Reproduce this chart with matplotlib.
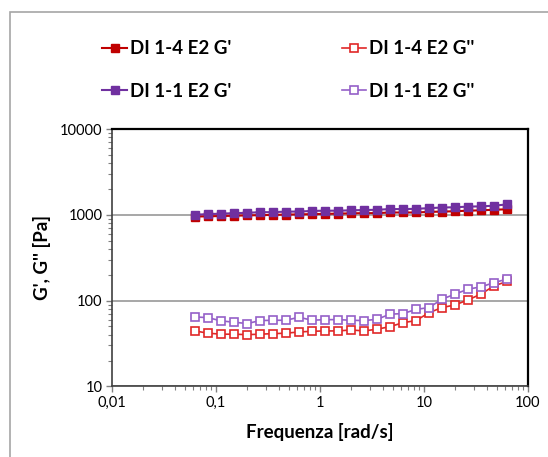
import numpy as np
import matplotlib
matplotlib.use("Agg")
import matplotlib.pyplot as plt
from matplotlib.patches import Rectangle
from matplotlib.ticker import LogLocator, NullFormatter

plt.rcParams['font.family'] = ['Lato', 'DejaVu Sans']

# frequency [rad/s], 8 points per decade from 0.0628
freq = [0.0628, 0.0838, 0.112, 0.149, 0.199, 0.265, 0.353, 0.471, 0.628,
        0.838, 1.12, 1.49, 1.99, 2.65, 3.53, 4.71, 6.28, 8.38, 11.2, 14.9,
        19.9, 26.5, 35.3, 47.1, 62.8]

g1_14 = [955, 960, 968, 975, 985, 990, 998, 1005, 1012, 1018, 1025, 1032,
         1040, 1046, 1046, 1064, 1064, 1064, 1082, 1090, 1101, 1117, 1128,
         1145, 1160]
g2_14 = [44.3, 41.7, 40.6, 40.6, 40.1, 40.6, 41.2, 41.7, 43.1, 43.9, 44.3,
         44.3, 45.5, 44.3, 46.4, 49.7, 55.3, 58.5, 72.4, 83, 89, 102, 119,
         148.5, 167]
g1_11 = [1000, 1020, 1030, 1046, 1054, 1073, 1073, 1090, 1090, 1110, 1117,
         1117, 1128, 1137, 1145, 1166, 1166, 1175, 1196, 1216, 1225, 1246,
         1255, 1277, 1323]
g2_11 = [64.5, 63.3, 58, 56, 54, 58.5, 59, 59, 64, 59, 60, 60, 59, 58.5,
         60.5, 69.5, 70.5, 79, 83, 104, 119, 136, 144.5, 162, 178]

xticks = [0.01, 0.1, 1, 10, 100]
xlabels = ["0,01", "0,1", "1", "10", "100"]
yticks = [10, 100, 1000, 10000]
ylabels = ["10", "100", "1000", "10000"]

fig = plt.figure(figsize=(5.48, 4.57), dpi=100)
ax = fig.add_axes([0.2044, 0.1545, 0.7591, 0.5632])

ms = 5.2
l1, = ax.plot(freq, g1_14, color="#C00000", marker="s", ms=ms, lw=1.5,
              mfc="#C00000", mec="#C00000", label="DI 1-4 E2 G'", zorder=4)
l2, = ax.plot(freq, g2_14, color="#E02828", marker="s", ms=ms, lw=1.2,
              mfc="white", mec="#E02828", mew=1.2, label="DI 1-4 E2 G''", zorder=4)
l3, = ax.plot(freq, g1_11, color="#7030A0", marker="s", ms=ms, lw=1.5,
              mfc="#7030A0", mec="#7030A0", label="DI 1-1 E2 G'", zorder=5)
l4, = ax.plot(freq, g2_11, color="#9560C8", marker="s", ms=ms, lw=1.2,
              mfc="white", mec="#9560C8", mew=1.2, label="DI 1-1 E2 G''", zorder=5)

ax.set_xscale("log")
ax.set_yscale("log")
ax.set_xlim(0.01, 100)
ax.set_ylim(10, 10000)
ax.set_xticks(xticks)
ax.set_xticklabels(xlabels)
ax.set_yticks(yticks)
ax.set_yticklabels(ylabels)
ax.xaxis.set_minor_locator(LogLocator(base=10, subs=np.arange(2, 10)))
ax.yaxis.set_minor_locator(LogLocator(base=10, subs=np.arange(2, 10)))
ax.xaxis.set_minor_formatter(NullFormatter())
ax.yaxis.set_minor_formatter(NullFormatter())
ax.tick_params(which="major", direction="out", length=4, width=1,
               color="#808080", labelsize=10.5, pad=3)
ax.tick_params(which="minor", direction="out", length=3, width=0.8,
               color="#808080")
ax.grid(axis="y", which="major", color="#A0A0A0", lw=1.3)
ax.set_axisbelow(True)
for s in ["left", "bottom"]:
    ax.spines[s].set_color("#404040")
    ax.spines[s].set_linewidth(1.2)
for s in ["top", "right"]:
    ax.spines[s].set_color("black")
    ax.spines[s].set_linewidth(1.6)

ax.set_xlabel("Frequenza [rad/s]", fontsize=13.5, fontweight="bold", labelpad=9)
ax.set_ylabel("G', G'' [Pa]", fontsize=13.5, fontweight="bold", labelpad=6)

fig.legend(handles=[l1, l3, l2, l4], ncol=2, loc="center",
           bbox_to_anchor=(0.526, 0.847), frameon=False,
           prop={"weight": "bold", "size": 13.5}, handlelength=1.3,
           handletextpad=0.15, columnspacing=5.9, labelspacing=1.35)

# outer chart border (cropped)
fig.patches.append(Rectangle((10 / 548, -0.1), 1.2, 1.1 - 12 / 457,
                             transform=fig.transFigure, fill=False,
                             edgecolor="#A6A6A6", lw=1.2))

fig.savefig("out.png", dpi=100)
